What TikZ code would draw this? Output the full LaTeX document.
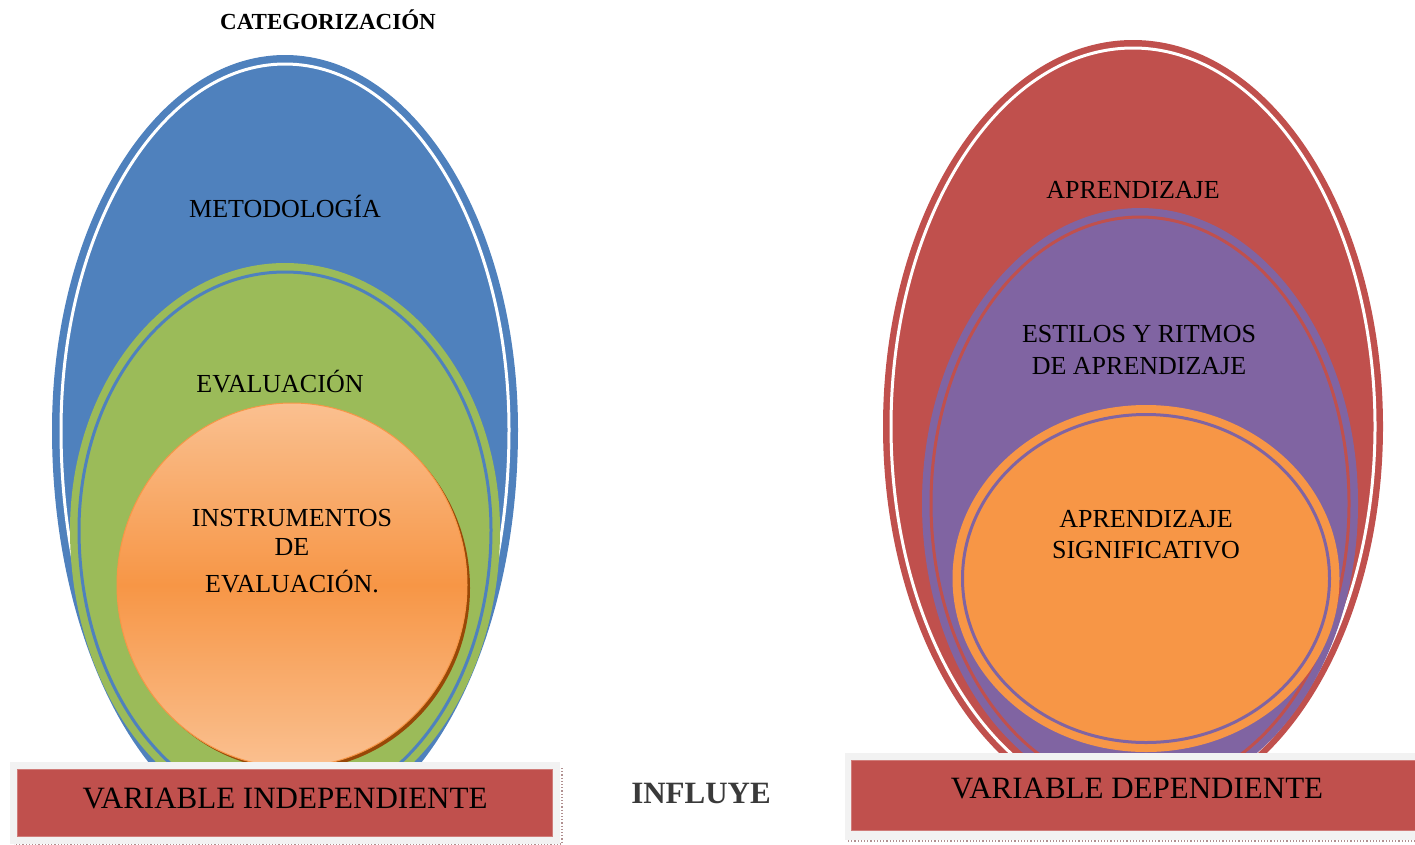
\documentclass[tikz,border=0pt]{standalone}
\usepackage{fontspec}
\setmainfont{Liberation Serif}
\usetikzlibrary{shapes.geometric}
\definecolor{cBlue}{HTML}{4F81BD}
\definecolor{cGreen}{HTML}{9BBB59}
\definecolor{cRed}{HTML}{C0504D}
\definecolor{cPurple}{HTML}{8064A2}
\definecolor{cOrange}{HTML}{F79646}
\definecolor{cLightOr}{HTML}{FAC090}
\definecolor{cBrown}{HTML}{984807}
\definecolor{cFrame}{HTML}{F2F2F2}
\definecolor{cShadow}{HTML}{B09090}
\definecolor{cInfl}{HTML}{3A3A3A}
\begin{document}
\begin{tikzpicture}[x=1pt,y=-1pt,
  egg/.style={ellipse, inner sep=0pt, outer sep=0pt},
  ring/.style={egg, line width=3pt},
  frame/.style={rectangle, fill=cFrame, inner sep=0pt, outer sep=0pt},
  varbox/.style={rectangle, fill=cRed, draw=cRed!75!white, line width=0.8pt, inner sep=0pt, outer sep=0pt},
  shadowline/.style={draw=cShadow, dotted, line width=1.2pt},
  lbl/.style={anchor=base, inner sep=0pt, font=\fontsize{26}{30}\selectfont},
  biglbl/.style={anchor=base, inner sep=0pt, font=\fontsize{31}{36}\selectfont},
  boldlbl/.style={anchor=base, inner sep=0pt, font=\bfseries\fontsize{31}{36}\selectfont, text=cInfl},
  titlelbl/.style={anchor=base, inner sep=0pt, font=\bfseries\fontsize{23}{26}\selectfont}]
\useasboundingbox (0,0) rectangle (1415,844);

% ---------- left group (egg shapes: upper and lower half-ellipses) ----------
% METODOLOGIA: centre (285,430), rx 233, upper ry 375, lower ry 410
\fill[cBlue] (52,430) arc[start angle=180,end angle=0,x radius=233pt,y radius=375pt]
                      arc[start angle=0,end angle=-180,x radius=233pt,y radius=410pt] -- cycle;
\draw[white, line width=3pt] (61,430) arc[start angle=180,end angle=0,x radius=224pt,y radius=366pt]
                      arc[start angle=0,end angle=-180,x radius=224pt,y radius=401pt] -- cycle;
% EVALUACION: centre (285,530), rx 215, upper ry 267, lower ry 290
\fill[cGreen] (70,530) arc[start angle=180,end angle=0,x radius=215pt,y radius=267pt]
                      arc[start angle=0,end angle=-180,x radius=215pt,y radius=290pt] -- cycle;
\draw[cBlue, line width=3pt] (79,530) arc[start angle=180,end angle=0,x radius=206pt,y radius=258pt]
                      arc[start angle=0,end angle=-180,x radius=206pt,y radius=281pt] -- cycle;
% INSTRUMENTOS
\node[egg, fill=cBrown, minimum width=350pt, minimum height=364pt] (instrShadow) at (295,588) {};
\node[egg, draw=cOrange, line width=1pt, top color=cLightOr, bottom color=cLightOr, middle color=cOrange,
      minimum width=350pt, minimum height=364pt] (instr) at (292,585) {};

% ---------- right group ----------
\node[egg, fill=cRed, minimum width=500pt, minimum height=773pt] (aprend) at (1133,426.5) {};
\node[ring, draw=white, minimum width=484pt, minimum height=757pt] (aprendRing) at (1133,426.5) {};
\node[egg, fill=cPurple, minimum width=436pt, minimum height=591pt] (estilos) at (1140,503.5) {};
\node[ring, draw=cRed, minimum width=418pt, minimum height=573pt] (estilosRing) at (1140,503.5) {};
\node[egg, fill=cOrange, minimum width=387pt, minimum height=347pt] (signif) at (1146,578.5) {};
\node[ring, draw=cPurple, minimum width=367pt, minimum height=328pt] (signifRing) at (1146,578.5) {};

% ---------- variable boxes ----------
\coordinate (shL1) at (562,768);
\coordinate (shL2) at (562,844);
\coordinate (shL3) at (14,844);
\draw[shadowline] (shL1) -- (shL2) -- (shL3);
\node[frame, minimum width=550pt, minimum height=82pt] (indepFrame) at (285,803) {};
\node[varbox, minimum width=535pt, minimum height=67pt] (indep) at (284.5,802.5) {};

\coordinate (shR1) at (848,841);
\coordinate (shR2) at (1415,841);
\draw[shadowline] (shR1) -- (shR2);
\node[frame, minimum width=570pt, minimum height=87pt] (depFrame) at (1130,796.5) {};
\node[varbox, minimum width=566pt, minimum height=70pt] (dep) at (1134,795) {};

% ---------- labels ----------
\node[titlelbl] (tCat) at (328,29.5) {CATEGORIZACIÓN};
\node[lbl] (tMet) at (285,217.3) {METODOLOGÍA};
\node[lbl] (tEva) at (280,392.6) {EVALUACIÓN};
\node[lbl] (tIns1) at (292,526.6) {INSTRUMENTOS};
\node[lbl] (tIns2) at (292,555.6) {DE};
\node[lbl] (tIns3) at (292,592) {EVALUACIÓN.};
\node[lbl] (tApr) at (1133,198.3) {APRENDIZAJE};
\node[lbl] (tEst1) at (1139,342) {ESTILOS Y RITMOS};
\node[lbl] (tEst2) at (1139,374) {DE APRENDIZAJE};
\node[lbl] (tSig1) at (1146,527.3) {APRENDIZAJE};
\node[lbl] (tSig2) at (1146,558.3) {SIGNIFICATIVO};
\node[biglbl] (tIndep) at (285,808) {VARIABLE INDEPENDIENTE};
\node[biglbl] (tDep) at (1137,798) {VARIABLE DEPENDIENTE};
\node[boldlbl] (tInf) at (701,803) {INFLUYE};
\end{tikzpicture}
\end{document}
